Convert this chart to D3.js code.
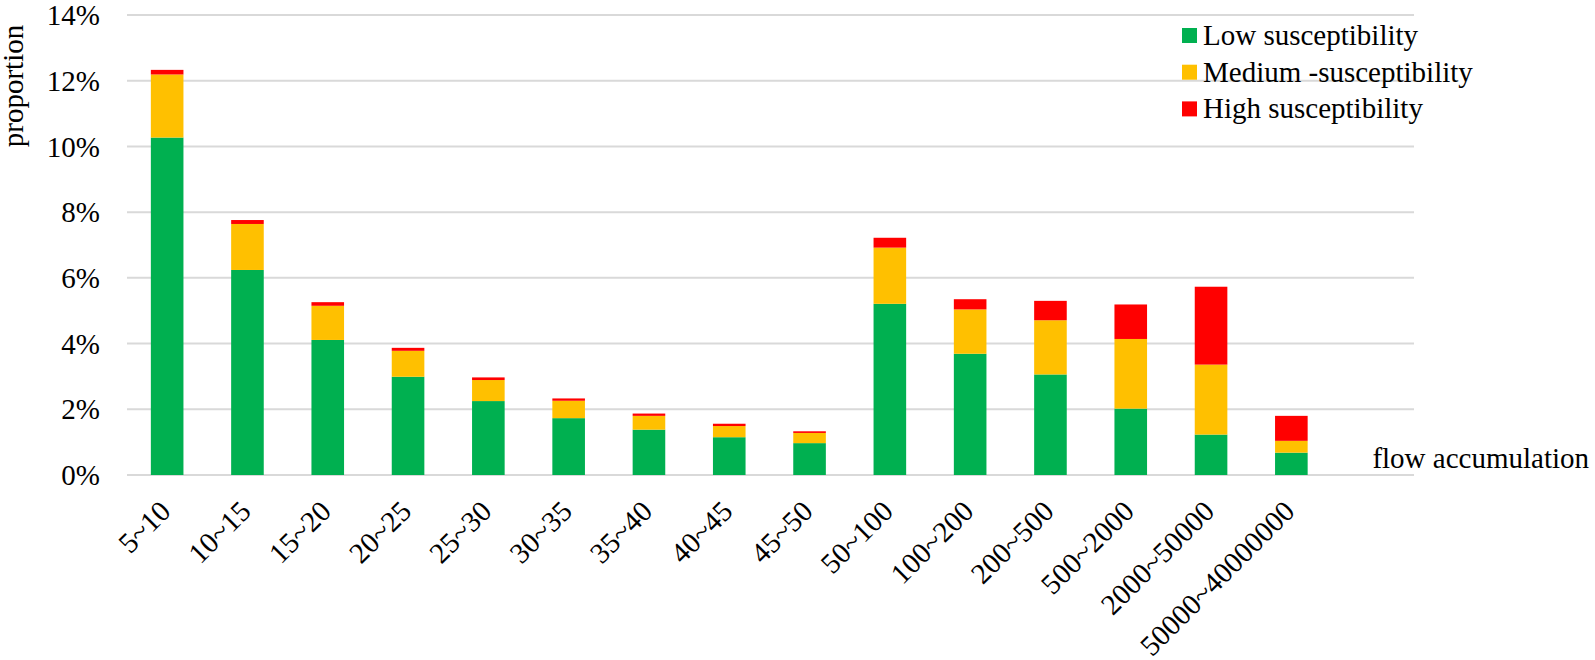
<!DOCTYPE html>
<html>
<head>
<meta charset="utf-8">
<script src="https://cdn.jsdelivr.net/npm/d3@7"></script>
<style>
  body { margin: 0; background: #fff; }
</style>
</head>
<body>
<svg id="chart" width="1595" height="660"></svg>
<script>
// flow accumulation classes
const categories = ["5~10", "10~15", "15~20", "20~25", "25~30", "30~35", "35~40", "40~45", "45~50",
  "50~100", "100~200", "200~500", "500~2000", "2000~50000", "50000~40000000"];

// proportions in %
const lowValues    = [10.27, 6.24, 4.11, 2.99, 2.25, 1.73, 1.38, 1.15, 0.97, 5.21, 3.69, 3.06, 2.02, 1.23, 0.68];
const mediumValues = [1.92, 1.40, 1.04, 0.79, 0.64, 0.53, 0.42, 0.34, 0.31, 1.71, 1.35, 1.65, 2.12, 2.13, 0.36];
const highValues   = [0.14, 0.12, 0.11, 0.09, 0.08, 0.07, 0.07, 0.07, 0.05, 0.30, 0.31, 0.59, 1.05, 2.37, 0.76];

const seriesNames = ["Low susceptibility", "Medium -susceptibility", "High susceptibility"];
const yTicks = [0, 2, 4, 6, 8, 10, 12, 14];

const colors = ["#00b050", "#ffc000", "#ff0000"];
const fontStack = "'Liberation Serif', 'Times New Roman', Tinos, 'DejaVu Serif', serif";

const svg = d3.select("#chart")
  .attr("font-family", fontStack)
  .style("font-family", fontStack);

const plotLeft = 127, plotRight = 1414, plotTop = 15, plotBottom = 475;

const x = d3.scaleBand()
  .domain(categories)
  .range([plotLeft, plotLeft + 15 * 80.3])
  .paddingInner(0.594)
  .paddingOuter(0.297);

const y = d3.scaleLinear()
  .domain([0, 14])
  .range([plotBottom, plotTop]);

// gridlines
svg.append("g")
  .selectAll("line")
  .data(yTicks)
  .enter()
  .append("line")
  .attr("x1", plotLeft)
  .attr("x2", plotRight)
  .attr("y1", d => y(d))
  .attr("y2", d => y(d))
  .attr("stroke", "#d9d9d9")
  .attr("stroke-width", 2);

// y tick labels
svg.append("g")
  .selectAll("text")
  .data(yTicks)
  .enter()
  .append("text")
  .attr("x", 100)
  .attr("y", d => y(d))
  .attr("dy", "0.35em")
  .attr("text-anchor", "end")
  .style("font-size", "29px")
  .text(d => d + "%");

// stacked bars
const rows = categories.map((c, i) => ({ cat: c, low: lowValues[i], medium: mediumValues[i], high: highValues[i] }));
const stack = d3.stack().keys(["low", "medium", "high"]);
const layers = stack(rows);

svg.append("g")
  .selectAll("g")
  .data(layers)
  .enter()
  .append("g")
  .attr("fill", (d, i) => colors[i])
  .selectAll("rect")
  .data(d => d)
  .enter()
  .append("rect")
  .attr("x", d => x(d.data.cat))
  .attr("width", x.bandwidth())
  .attr("y", d => y(d[1]))
  .attr("height", d => y(d[0]) - y(d[1]));

// x tick labels (rotated)
svg.append("g")
  .selectAll("text")
  .data(categories)
  .enter()
  .append("text")
  .attr("transform", d => `translate(${x(d) + x.bandwidth() / 2 + 5},${plotBottom + 38}) rotate(-45)`)
  .attr("text-anchor", "end")
  .style("font-size", "29px")
  .text(d => d);

// axis titles
svg.append("text")
  .attr("transform", "translate(23,86) rotate(-90)")
  .attr("text-anchor", "middle")
  .style("font-size", "29px")
  .text("proportion");

svg.append("text")
  .attr("x", 1589)
  .attr("y", 468)
  .attr("text-anchor", "end")
  .style("font-size", "29px")
  .text("flow accumulation");

// legend
const legend = svg.append("g")
  .selectAll("g")
  .data(seriesNames)
  .enter()
  .append("g")
  .attr("transform", (d, i) => `translate(1182,${28 + i * 36.7})`);

legend.append("rect")
  .attr("width", 15)
  .attr("height", 15)
  .attr("fill", (d, i) => colors[i]);

legend.append("text")
  .attr("x", 21)
  .attr("y", 17)
  .style("font-size", "29px")
  .text(d => d);
</script>
</body>
</html>
